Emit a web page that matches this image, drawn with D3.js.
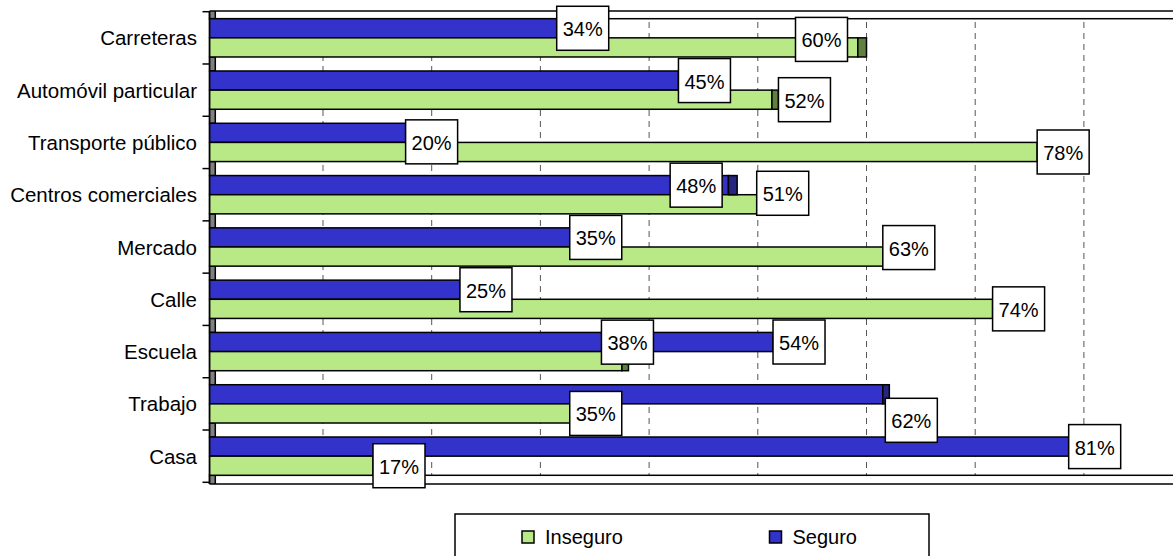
<!DOCTYPE html>
<html><head><meta charset="utf-8">
<script src="https://cdn.jsdelivr.net/npm/d3@7"></script>
<style>
body{margin:0;background:#fff;overflow:hidden;}
text{font-family:"Liberation Sans",Arial,sans-serif;fill:#000;}
</style>
</head><body><svg id="c" width="1173" height="556"></svg>
<script>
// ---------- data ----------
const categories = ["Carreteras","Automóvil particular","Transporte público","Centros comerciales","Mercado","Calle","Escuela","Trabajo","Casa"];
const seriesNames = ["Seguro","Inseguro"];
// bar lengths read against the dashed gridlines (10 units apart)
const seguro      = [31.5, 42.7, 17.6, 47.3, 32.7, 22.6, 51.4, 61.5, 78.6];
const seguroCap   = [0,    0,    0,    0.8,  0,    0,    0,    0.6,  0];
const inseguro    = [59.2, 51.3, 75.7, 49.9, 61.5, 71.6, 37.5, 32.7, 14.6];
const inseguroCap = [0.8,  0.6,  0,    0,    0,    0,    0.6,  0,    0];
const seguroLabels   = ["34%","45%","20%","48%","35%","25%","54%","62%","81%"];
const inseguroLabels = ["60%","52%","78%","51%","63%","74%","38%","35%","17%"];
const gapBars = [100, 0, 0, 0, 0, 0, 0, 0, 0, 100];
const gridTicks = [10,20,30,40,50,60,70,80];

// ---------- layout / style ----------
const W = 1173, H = 556;
const axisX = 209.5, plotTop = 11, plotBottom = 484;
const colors = {Seguro:"#3333CC", Inseguro:"#B8E986"};
const capColors = {Seguro:"#262680", Inseguro:"#5F803F"};
// manual label moves (px) as in the original
const labelNudge = {
  "Seguro|Transporte público":[0,9],
  "Inseguro|Carreteras":[-71,-8],
  "Seguro|Centros comerciales":[-67,0],
  "Inseguro|Centros comerciales":[0,-11],
  "Inseguro|Mercado":[0,-9],
  "Inseguro|Escuela":[-27,-19],
  "Seguro|Trabajo":[-4,26]
};

const svg = d3.select("#c");
const x = d3.scaleLinear().domain([0,80]).range([214.3,1083.9]);
const y = d3.scaleBand().domain(categories).range([11.7,482.3]).paddingInner(0.268).paddingOuter(0.134);
const sub = d3.scaleBand().domain(seriesNames).range([0,y.bandwidth()]);
const step = y.step(), bw = y.bandwidth();

// clip for plot area
svg.append("clipPath").attr("id","plot").append("rect")
  .attr("x",axisX-1).attr("y",plotTop).attr("width",W).attr("height",plotBottom-plotTop);

// gridlines
svg.append("g").selectAll("line").data(gridTicks).join("line")
  .attr("x1",d=>x(d)).attr("x2",d=>x(d)).attr("y1",plotTop).attr("y2",plotBottom)
  .attr("stroke","#555").attr("stroke-width",1).attr("stroke-dasharray","6,5");

const pg = svg.append("g").attr("clip-path","url(#plot)");

// gap bars (white with grey start)
gapBars.forEach((v,k)=>{
  const y0 = k===0 ? plotTop-10 : y(categories[k-1])+bw;
  const y1 = k===categories.length ? plotBottom+10 : y(categories[k]);
  if (v>0) pg.append("rect").attr("x",axisX).attr("y",y0).attr("width",x(v)-axisX).attr("height",y1-y0)
    .attr("fill","#fff").attr("stroke","#000").attr("stroke-width",1.5);
  pg.append("rect").attr("x",axisX).attr("y",y0).attr("width",x(0)+1-axisX).attr("height",y1-y0)
    .attr("fill","#808080").attr("stroke","#000").attr("stroke-width",1.5);
});

const rows = [];
categories.forEach((c,i)=>{
  rows.push({s:"Seguro",c,v:seguro[i],cap:seguroCap[i],lab:seguroLabels[i]});
  rows.push({s:"Inseguro",c,v:inseguro[i],cap:inseguroCap[i],lab:inseguroLabels[i]});
});

// bars
pg.selectAll("rect.bar").data(rows).join("rect").attr("class","bar")
  .attr("x",axisX).attr("y",d=>y(d.c)+sub(d.s))
  .attr("width",d=>x(d.v)-axisX).attr("height",sub.bandwidth())
  .attr("fill",d=>colors[d.s]).attr("stroke","#000").attr("stroke-width",1.5);
pg.selectAll("rect.cap").data(rows.filter(d=>d.cap>0)).join("rect").attr("class","cap")
  .attr("x",d=>x(d.v)).attr("y",d=>y(d.c)+sub(d.s))
  .attr("width",d=>x(d.v+d.cap)-x(d.v)).attr("height",sub.bandwidth())
  .attr("fill",d=>capColors[d.s]).attr("stroke","#000").attr("stroke-width",1.5);

// plot border top/bottom, axis
svg.append("line").attr("x1",axisX).attr("x2",W+5).attr("y1",plotTop).attr("y2",plotTop).attr("stroke","#000").attr("stroke-width",1.5);
svg.append("line").attr("x1",axisX).attr("x2",W+5).attr("y1",plotBottom).attr("y2",plotBottom).attr("stroke","#000").attr("stroke-width",1.5);
svg.append("line").attr("x1",axisX).attr("x2",axisX).attr("y1",plotTop).attr("y2",plotBottom).attr("stroke","#000").attr("stroke-width",1.5);
// category ticks
const tickYs = d3.range(categories.length+1).map(k=>y.range()[0]+k*step);
svg.append("g").selectAll("line").data(tickYs).join("line")
  .attr("x1",axisX-7).attr("x2",axisX).attr("y1",d=>d).attr("y2",d=>d)
  .attr("stroke","#000").attr("stroke-width",1.5);

// category labels
svg.append("g").selectAll("text").data(categories).join("text")
  .attr("x",197).attr("y",c=>y(c)+bw/2).attr("text-anchor","end")
  .attr("dominant-baseline","central").attr("font-size",20.5).text(c=>c);

// data labels
const lw = 52, lh = 44;
const lg = svg.append("g").selectAll("g").data(rows).join("g")
  .attr("transform",d=>{
    const n = labelNudge[d.s+"|"+d.c]||[0,0];
    return `translate(${x(d.v+d.cap)+n[0]},${y(d.c)+sub(d.s)+sub.bandwidth()/2+n[1]})`;
  });
lg.append("rect").attr("x",0).attr("y",-lh/2).attr("width",lw).attr("height",lh)
  .attr("fill","#fff").attr("stroke","#000").attr("stroke-width",1.5);
lg.append("text").attr("x",lw/2).attr("y",1).attr("text-anchor","middle")
  .attr("dominant-baseline","central").attr("font-size",20).text(d=>d.lab);

// legend
const leg = svg.append("g");
leg.append("rect").attr("x",455).attr("y",514).attr("width",474).attr("height",60)
  .attr("fill","#fff").attr("stroke","#000").attr("stroke-width",1.5);
const legItems = [{s:"Inseguro",x:522},{s:"Seguro",x:769.5}];
legItems.forEach(it=>{
  leg.append("rect").attr("x",it.x).attr("y",531).attr("width",12).attr("height",12)
    .attr("fill",colors[it.s]).attr("stroke","#000").attr("stroke-width",1.5);
  leg.append("text").attr("x",it.x+23).attr("y",537).attr("dominant-baseline","central")
    .attr("font-size",20).text(it.s);
});
</script></body></html>
